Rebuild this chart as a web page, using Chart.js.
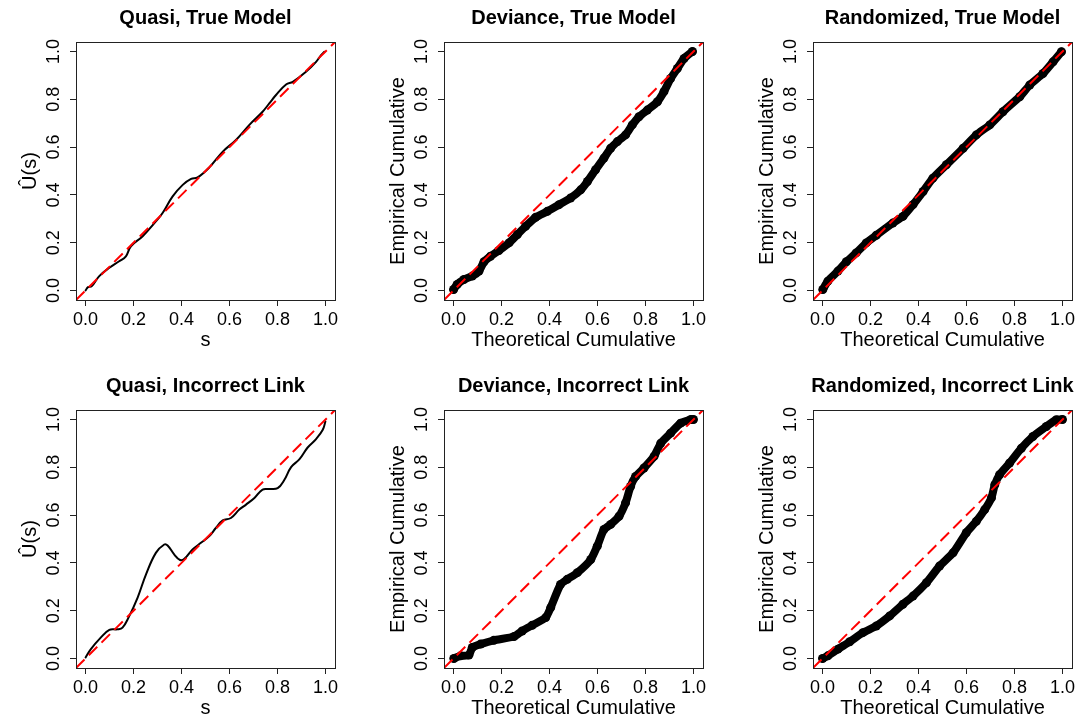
<!DOCTYPE html>
<html>
<head>
<meta charset="utf-8">
<script src="https://cdn.jsdelivr.net/npm/chart.js@4.4.1/dist/chart.umd.min.js"></script>
<style>
html, body { margin: 0; padding: 0; background: #fff; width: 1080px; height: 721px; overflow: hidden; position: relative; }
.cell { position: absolute; width: 411px; height: 360px; }
</style>
</head>
<body>
<div class="cell" style="left:0px;top:0px"><canvas id="p1" width="411" height="360"></canvas></div>
<div class="cell" style="left:368px;top:0px"><canvas id="p2" width="411" height="360"></canvas></div>
<div class="cell" style="left:737px;top:0px"><canvas id="p3" width="411" height="360"></canvas></div>
<div class="cell" style="left:0px;top:368px"><canvas id="p4" width="411" height="360"></canvas></div>
<div class="cell" style="left:368px;top:368px"><canvas id="p5" width="411" height="360"></canvas></div>
<div class="cell" style="left:737px;top:368px"><canvas id="p6" width="411" height="360"></canvas></div>
<script>
// axis ticks shared by all panels
var tickValues = [0, 0.2, 0.4, 0.6, 0.8, 1.0];
var tickLabels = ['0.0', '0.2', '0.4', '0.6', '0.8', '1.0'];
var refLine = [-0.04, 1.04];

// Quasi, True Model
var quasiTrueS = [0, 0.01, 0.026, 0.057, 0.099, 0.14, 0.168, 0.189, 0.238, 0.293, 0.321, 0.363, 0.405, 0.44, 0.467, 0.516, 0.572, 0.627, 0.683, 0.738, 0.766, 0.794, 0.836, 0.864, 0.919, 0.961, 0.982, 0.996];
var quasiTrueU = [0, 0.014, 0.018, 0.06, 0.095, 0.122, 0.143, 0.185, 0.227, 0.289, 0.324, 0.394, 0.442, 0.467, 0.473, 0.515, 0.581, 0.63, 0.693, 0.748, 0.783, 0.818, 0.862, 0.873, 0.915, 0.957, 0.985, 0.999];

// Deviance, True Model
var devTrueX = [0, 0.015, 0.043, 0.078, 0.106, 0.127, 0.154, 0.189, 0.231, 0.266, 0.3, 0.342, 0.391, 0.44, 0.488, 0.53, 0.558, 0.592, 0.627, 0.655, 0.683, 0.717, 0.745, 0.773, 0.808, 0.85, 0.877, 0.905, 0.933, 0.961, 0.996];
var devTrueY = [0.004, 0.025, 0.046, 0.06, 0.081, 0.12, 0.143, 0.167, 0.199, 0.234, 0.268, 0.306, 0.331, 0.359, 0.387, 0.421, 0.456, 0.505, 0.554, 0.595, 0.623, 0.651, 0.693, 0.727, 0.755, 0.79, 0.832, 0.887, 0.929, 0.971, 1.0];

// Randomized, True Model
var randTrueX = [0.001, 0.022, 0.064, 0.099, 0.14, 0.182, 0.224, 0.293, 0.335, 0.377, 0.419, 0.46, 0.516, 0.586, 0.641, 0.697, 0.752, 0.822, 0.864, 0.919, 0.961, 0.996];
var randTrueY = [0.004, 0.039, 0.081, 0.12, 0.157, 0.199, 0.231, 0.282, 0.31, 0.359, 0.414, 0.47, 0.526, 0.595, 0.651, 0.693, 0.748, 0.811, 0.86, 0.908, 0.957, 0.999];

// Quasi, Incorrect Link
var quasiLinkS = [0, 0.022, 0.064, 0.099, 0.133, 0.154, 0.179, 0.217, 0.252, 0.293, 0.328, 0.342, 0.37, 0.394, 0.412, 0.446, 0.481, 0.516, 0.544, 0.572, 0.606, 0.641, 0.669, 0.704, 0.738, 0.766, 0.801, 0.829, 0.857, 0.892, 0.926, 0.961, 0.989, 1.0];
var quasiLinkU = [0.004, 0.039, 0.088, 0.12, 0.122, 0.129, 0.171, 0.255, 0.352, 0.442, 0.477, 0.473, 0.435, 0.412, 0.417, 0.456, 0.484, 0.512, 0.547, 0.578, 0.588, 0.623, 0.644, 0.672, 0.707, 0.709, 0.713, 0.748, 0.801, 0.834, 0.883, 0.918, 0.957, 0.992];

// Deviance, Incorrect Link
var devLinkX = [0.001, 0.029, 0.064, 0.078, 0.113, 0.168, 0.252, 0.286, 0.328, 0.384, 0.405, 0.446, 0.474, 0.516, 0.572, 0.599, 0.627, 0.655, 0.69, 0.717, 0.738, 0.759, 0.794, 0.836, 0.864, 0.905, 0.947, 0.989, 1.0];
var devLinkY = [0, 0.011, 0.014, 0.046, 0.06, 0.076, 0.092, 0.115, 0.139, 0.171, 0.213, 0.31, 0.331, 0.359, 0.414, 0.47, 0.54, 0.561, 0.595, 0.651, 0.72, 0.762, 0.797, 0.846, 0.901, 0.943, 0.985, 1.0, 1.0];

// Randomized, Incorrect Link
var randLinkX = [0, 0.022, 0.064, 0.113, 0.168, 0.224, 0.28, 0.335, 0.377, 0.433, 0.488, 0.544, 0.599, 0.641, 0.676, 0.704, 0.718, 0.738, 0.78, 0.829, 0.877, 0.933, 0.975, 1.0];
var randLinkY = [0, 0.011, 0.039, 0.07, 0.108, 0.136, 0.178, 0.227, 0.261, 0.317, 0.387, 0.442, 0.526, 0.574, 0.623, 0.672, 0.727, 0.769, 0.818, 0.88, 0.929, 0.971, 0.999, 1.0];

var fontFamily = "'Liberation Sans', Helvetica, Arial, sans-serif";

var boxPlugin = {
    id: 'box',
    afterDraw: function (chart) {
        var a = chart.chartArea;
        var ctx = chart.ctx;
        ctx.save();
        ctx.strokeStyle = '#222';
        ctx.lineWidth = 1;
        ctx.strokeRect(Math.round(a.left) + 0.5, Math.round(a.top) + 0.5, Math.round(a.right - a.left), Math.round(a.bottom - a.top));
        ctx.restore();
    }
};

function toPoints(xs, ys) {
    return xs.map(function (x, i) { return { x: x, y: ys[i] }; });
}

function makePanel(id, title, xTitle, yTitle, xs, ys, thick) {
    var ctx = document.getElementById(id).getContext('2d');
    var curve = {
        data: toPoints(xs, ys),
        showLine: true,
        borderColor: '#000',
        backgroundColor: '#000',
        borderWidth: thick ? 8 : 2,
        pointRadius: thick ? 4.5 : 0,
        pointBorderWidth: 0,
        borderJoinStyle: 'round',
        borderCapStyle: 'round',
        tension: thick ? 0.2 : 0.4
    };
    var diag = {
        data: toPoints(refLine, refLine),
        showLine: true,
        borderColor: '#ff0000',
        borderWidth: 2,
        borderDash: [12, 6],
        pointRadius: 0,
        tension: 0
    };
    return new Chart(ctx, {
        type: 'scatter',
        data: { datasets: [diag, curve] },
        plugins: [boxPlugin],
        options: {
            responsive: false,
            animation: false,
            devicePixelRatio: 1,
            layout: { padding: 0 },
            plugins: {
                legend: { display: false },
                tooltip: { enabled: false },
                title: {
                    display: true,
                    text: title,
                    color: '#000',
                    font: { family: fontFamily, size: 20, weight: 'bold' },
                    padding: { top: 6.5, bottom: 11.5 }
                }
            },
            scales: {
                x: {
                    type: 'linear',
                    min: -0.04,
                    max: 1.04,
                    afterBuildTicks: function (s) { s.ticks = tickValues.map(function (v) { return { value: v }; }); },
                    afterFit: function (s) { s.height = 60; },
                    ticks: {
                        callback: function (v, i) { return tickLabels[i]; },
                        color: '#000',
                        font: { family: fontFamily, size: 18 },
                        padding: 3,
                        maxRotation: 0,
                        autoSkip: false
                    },
                    grid: { drawOnChartArea: false, drawTicks: true, tickLength: 6, color: '#222' },
                    border: { display: false },
                    title: {
                        display: true,
                        text: xTitle,
                        color: '#000',
                        font: { family: fontFamily, size: 20 },
                        padding: { top: 0, bottom: 8 }
                    }
                },
                y: {
                    type: 'linear',
                    min: -0.04,
                    max: 1.04,
                    afterBuildTicks: function (s) { s.ticks = tickValues.map(function (v) { return { value: v }; }); },
                    afterFit: function (s) { s.width = 76; },
                    ticks: {
                        callback: function (v, i) { return tickLabels[i]; },
                        color: '#000',
                        font: { family: fontFamily, size: 18 },
                        padding: 3,
                        minRotation: 90,
                        maxRotation: 90,
                        crossAlign: 'center',
                        autoSkip: false
                    },
                    grid: { drawOnChartArea: false, drawTicks: true, tickLength: 6, color: '#222' },
                    border: { display: false },
                    title: {
                        display: true,
                        text: yTitle,
                        color: '#000',
                        font: { family: fontFamily, size: 20 },
                        padding: { top: 18, bottom: 0 }
                    }
                },
                // empty right-hand spacer so the title centres over the box
                yRight: {
                    type: 'linear',
                    position: 'right',
                    display: true,
                    afterFit: function (s) { s.width = 76; },
                    ticks: { display: false },
                    grid: { display: false },
                    border: { display: false }
                }
            }
        }
    });
}

makePanel('p1', 'Quasi, True Model', 's', '\u00DB(s)', quasiTrueS, quasiTrueU, false);
makePanel('p2', 'Deviance, True Model', 'Theoretical Cumulative', 'Empirical Cumulative', devTrueX, devTrueY, true);
makePanel('p3', 'Randomized, True Model', 'Theoretical Cumulative', 'Empirical Cumulative', randTrueX, randTrueY, true);
makePanel('p4', 'Quasi, Incorrect Link', 's', '\u00DB(s)', quasiLinkS, quasiLinkU, false);
makePanel('p5', 'Deviance, Incorrect Link', 'Theoretical Cumulative', 'Empirical Cumulative', devLinkX, devLinkY, true);
makePanel('p6', 'Randomized, Incorrect Link', 'Theoretical Cumulative', 'Empirical Cumulative', randLinkX, randLinkY, true);
</script>
</body>
</html>
